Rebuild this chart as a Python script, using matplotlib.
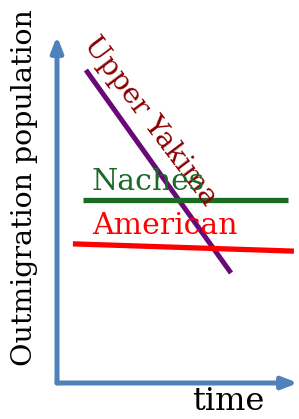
import matplotlib.pyplot as plt

# conceptual lines (time, population) on a 0-10 scale
upper_yakima_t = [1.2, 7.22]
upper_yakima_p = [9.02, 3.17]
naches_t = [1.08, 9.59]
naches_p = [5.27, 5.27]
american_t = [0.66, 9.83]
american_p = [4.01, 3.80]

xlabel = 'time'
ylabel = 'Outmigration population'

axis_blue = '#4F81BD'

fig = plt.figure(figsize=(2.99, 4.19), dpi=100)
ax = fig.add_axes([57/299, 36/419, 241/299, 347/419])
ax.set_xlim(0, 10)
ax.set_ylim(0, 10)
ax.axis('off')

# axes arrows
ax.annotate('', xy=(1.0, 0.0), xytext=(0.0, 0.0), xycoords='axes fraction',
            arrowprops=dict(arrowstyle='-|>,head_length=0.9,head_width=0.35',
                            color=axis_blue, lw=3.6, shrinkA=0, shrinkB=0))
ax.annotate('', xy=(0.0, 1.0), xytext=(0.0, 0.0), xycoords='axes fraction',
            arrowprops=dict(arrowstyle='-|>,head_length=0.9,head_width=0.35',
                            color=axis_blue, lw=3.6, shrinkA=0, shrinkB=0))

ax.plot(upper_yakima_t, upper_yakima_p, color='#6A0A78', lw=3.6, solid_capstyle='butt')
ax.plot(naches_t, naches_p, color='#1A6B26', lw=3.8, solid_capstyle='butt')
ax.plot(american_t, american_p, color='#FF0000', lw=3.8, solid_capstyle='butt')

font = 'DejaVu Serif'
ax.text(3.85, 7.55, 'Upper Yakima', color='#8B0000', fontsize=20.5, family=font,
        rotation=-53, rotation_mode='anchor', ha='center', va='center')
ax.text(1.45, 5.56, 'Naches', color='#1A6B26', fontsize=21.5, family=font,
        ha='left', va='baseline')
ax.text(1.45, 4.30, 'American', color='#FF0000', fontsize=21.5, family=font,
        ha='left', va='baseline')

fig.text(25/299, 1 - 188/419, ylabel, rotation=90, fontsize=20.5, family=font,
         ha='center', va='center')
fig.text(228/299, 1 - 401/419, xlabel, fontsize=23, family=font,
         ha='center', va='center')

fig.savefig('out.png', dpi=100)
